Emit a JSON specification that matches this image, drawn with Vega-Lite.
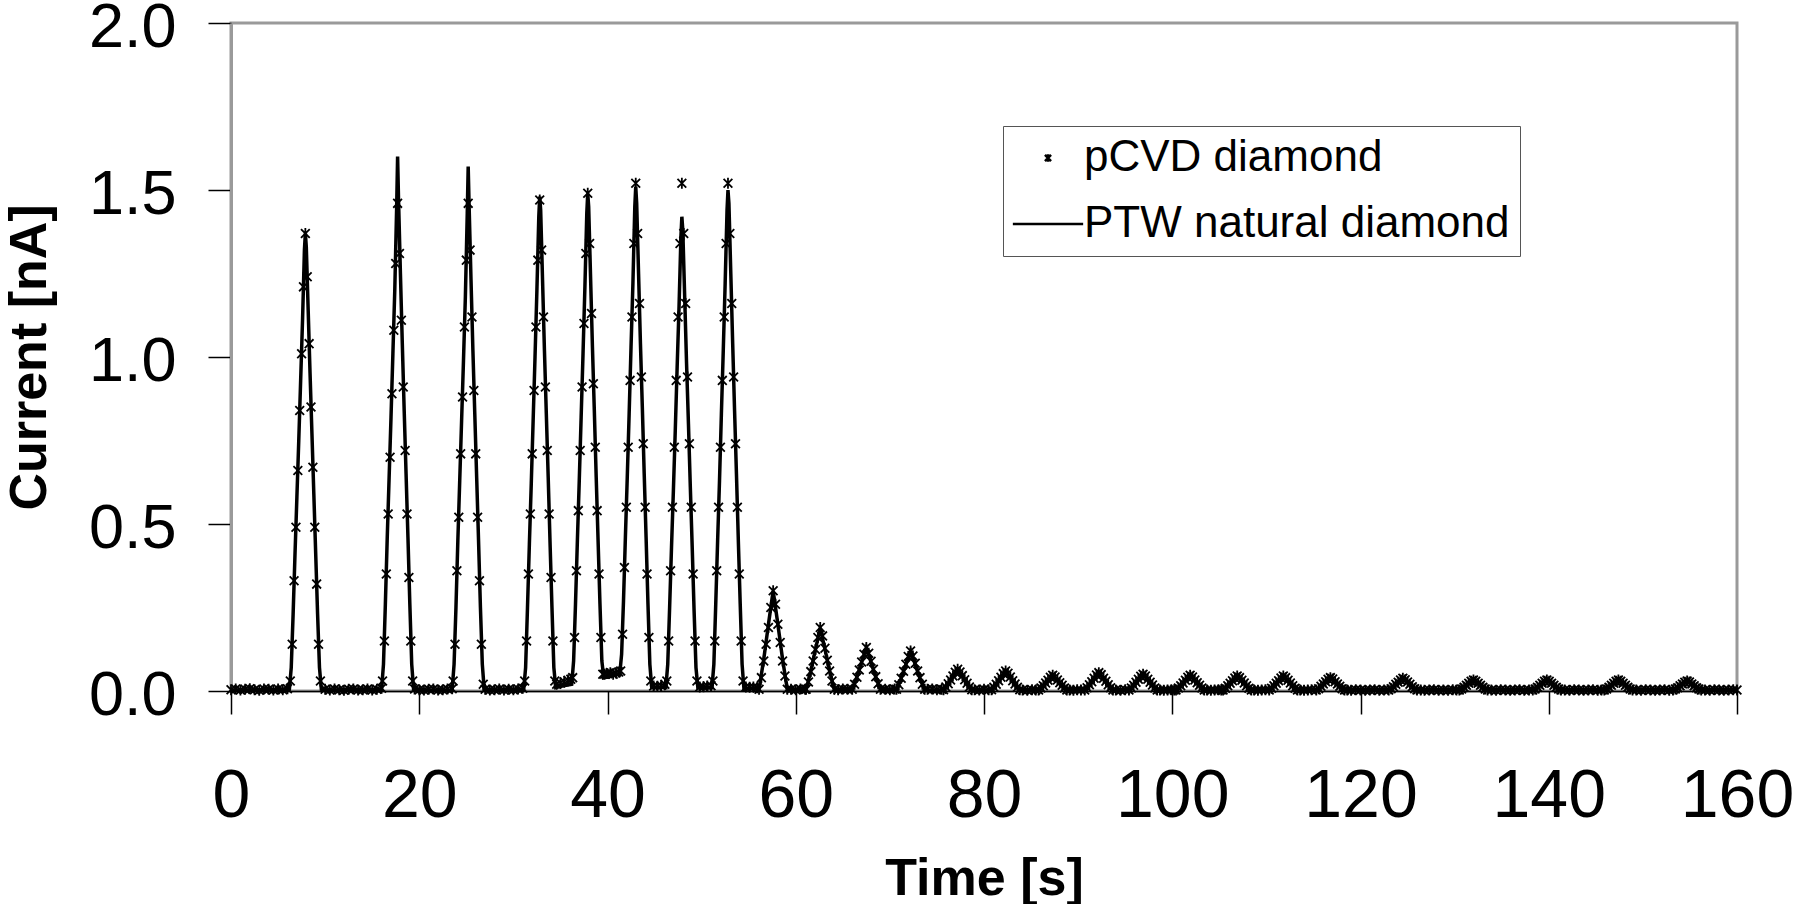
{
"$schema": "https://vega.github.io/schema/vega-lite/v6.json",
"width": 1506,
"height": 668,
"autosize": {"type": "none"},
"padding": {"left": 231, "top": 23, "right": 57, "bottom": 213},
"background": "white",
"config": {
  "view": {"stroke": "#9a9a9a", "strokeWidth": 3},
  "font": "Liberation Sans"
},
"datasets": {
"pcvd": [
{"t":0,"v":0.004},{"t":0.5,"v":0.006},{"t":1,"v":0.003},{"t":1.5,"v":0.005},{"t":2,"v":0.007},{"t":2.5,"v":0.004},{"t":3,"v":0.002},{"t":3.5,"v":0.006},{"t":4,"v":0.005},{"t":4.5,"v":0.003},{"t":5,"v":0.006},{"t":5.5,"v":0.004},{"t":6,"v":0.007},
{"t":6.3,"v":0.03},{"t":6.5,"v":0.14},{"t":6.7,"v":0.33},{"t":6.9,"v":0.49},{"t":7.1,"v":0.66},{"t":7.3,"v":0.84},{"t":7.5,"v":1.01},{"t":7.7,"v":1.21},{"t":7.9,"v":1.37},{"t":8.1,"v":1.24},{"t":8.3,"v":1.04},{"t":8.5,"v":0.85},{"t":8.7,"v":0.67},{"t":8.9,"v":0.49},{"t":9.1,"v":0.32},{"t":9.3,"v":0.14},{"t":9.5,"v":0.03},
{"t":10,"v":0.005},{"t":10.5,"v":0.003},{"t":11,"v":0.006},{"t":11.5,"v":0.004},{"t":12,"v":0.002},{"t":12.5,"v":0.005},{"t":13,"v":0.006},{"t":13.5,"v":0.003},{"t":14,"v":0.004},{"t":14.5,"v":0.006},{"t":15,"v":0.003},{"t":15.5,"v":0.005},{"t":16,"v":0.008},
{"t":16.1,"v":0.03},{"t":16.3,"v":0.15},{"t":16.5,"v":0.35},{"t":16.7,"v":0.53},{"t":16.9,"v":0.70},{"t":17.1,"v":0.89},{"t":17.3,"v":1.08},{"t":17.5,"v":1.28},{"t":17.7,"v":1.46},{"t":17.9,"v":1.31},{"t":18.1,"v":1.11},{"t":18.3,"v":0.91},{"t":18.5,"v":0.72},{"t":18.7,"v":0.53},{"t":18.9,"v":0.34},{"t":19.1,"v":0.15},{"t":19.3,"v":0.03},
{"t":19.5,"v":0.006},{"t":20,"v":0.004},{"t":20.5,"v":0.003},{"t":21,"v":0.005},{"t":21.5,"v":0.006},{"t":22,"v":0.003},{"t":22.5,"v":0.004},{"t":23,"v":0.006},{"t":23.5,"v":0.007},
{"t":23.6,"v":0.03},{"t":23.8,"v":0.14},{"t":24.0,"v":0.36},{"t":24.2,"v":0.52},{"t":24.4,"v":0.71},{"t":24.6,"v":0.88},{"t":24.8,"v":1.09},{"t":25.0,"v":1.29},{"t":25.2,"v":1.46},{"t":25.4,"v":1.32},{"t":25.6,"v":1.12},{"t":25.8,"v":0.90},{"t":26.0,"v":0.71},{"t":26.2,"v":0.52},{"t":26.4,"v":0.33},{"t":26.6,"v":0.14},{"t":26.8,"v":0.02},
{"t":27,"v":0.005},{"t":27.5,"v":0.003},{"t":28,"v":0.004},{"t":28.5,"v":0.006},{"t":29,"v":0.003},{"t":29.5,"v":0.005},{"t":30,"v":0.004},{"t":30.5,"v":0.006},{"t":31,"v":0.008},
{"t":31.2,"v":0.03},{"t":31.4,"v":0.15},{"t":31.6,"v":0.35},{"t":31.8,"v":0.53},{"t":32.0,"v":0.71},{"t":32.2,"v":0.90},{"t":32.4,"v":1.09},{"t":32.6,"v":1.29},{"t":32.8,"v":1.47},{"t":33.0,"v":1.32},{"t":33.2,"v":1.12},{"t":33.4,"v":0.91},{"t":33.6,"v":0.72},{"t":33.8,"v":0.53},{"t":34.0,"v":0.34},{"t":34.2,"v":0.15},{"t":34.4,"v":0.03},
{"t":34.6,"v":0.02},{"t":35.0,"v":0.024},{"t":35.4,"v":0.028},{"t":35.8,"v":0.032},{"t":36.1,"v":0.035},
{"t":36.3,"v":0.04},{"t":36.5,"v":0.16},{"t":36.7,"v":0.36},{"t":36.9,"v":0.54},{"t":37.1,"v":0.72},{"t":37.3,"v":0.91},{"t":37.5,"v":1.10},{"t":37.7,"v":1.31},{"t":37.9,"v":1.49},{"t":38.1,"v":1.34},{"t":38.3,"v":1.13},{"t":38.5,"v":0.92},{"t":38.7,"v":0.73},{"t":38.9,"v":0.54},{"t":39.1,"v":0.35},{"t":39.3,"v":0.16},{"t":39.5,"v":0.05},
{"t":39.7,"v":0.05},{"t":40.0,"v":0.052},{"t":40.3,"v":0.055},{"t":40.6,"v":0.05},{"t":40.9,"v":0.054},{"t":41.2,"v":0.057},
{"t":41.4,"v":0.06},{"t":41.6,"v":0.17},{"t":41.8,"v":0.37},{"t":42.0,"v":0.55},{"t":42.2,"v":0.73},{"t":42.4,"v":0.93},{"t":42.6,"v":1.12},{"t":42.8,"v":1.34},{"t":43.0,"v":1.52},{"t":43.2,"v":1.37},{"t":43.4,"v":1.16},{"t":43.6,"v":0.94},{"t":43.8,"v":0.74},{"t":44.0,"v":0.55},{"t":44.2,"v":0.35},{"t":44.4,"v":0.16},{"t":44.6,"v":0.03},
{"t":44.9,"v":0.015},{"t":45.3,"v":0.014},{"t":45.7,"v":0.016},{"t":46.1,"v":0.02},
{"t":46.3,"v":0.03},{"t":46.5,"v":0.15},{"t":46.7,"v":0.36},{"t":46.9,"v":0.55},{"t":47.1,"v":0.73},{"t":47.3,"v":0.93},{"t":47.5,"v":1.12},{"t":47.7,"v":1.34},{"t":47.9,"v":1.52},{"t":48.1,"v":1.37},{"t":48.3,"v":1.16},{"t":48.5,"v":0.94},{"t":48.7,"v":0.74},{"t":48.9,"v":0.55},{"t":49.1,"v":0.35},{"t":49.3,"v":0.15},{"t":49.5,"v":0.03},
{"t":49.8,"v":0.012},{"t":50.2,"v":0.013},{"t":50.6,"v":0.015},{"t":51.0,"v":0.016},
{"t":51.2,"v":0.03},{"t":51.4,"v":0.15},{"t":51.6,"v":0.36},{"t":51.8,"v":0.55},{"t":52.0,"v":0.73},{"t":52.2,"v":0.93},{"t":52.4,"v":1.12},{"t":52.6,"v":1.34},{"t":52.8,"v":1.52},{"t":53.0,"v":1.37},{"t":53.2,"v":1.16},{"t":53.4,"v":0.94},{"t":53.6,"v":0.74},{"t":53.8,"v":0.55},{"t":54.0,"v":0.35},{"t":54.2,"v":0.15},{"t":54.4,"v":0.03},
{"t":54.7,"v":0.012},{"t":55.1,"v":0.011},{"t":55.5,"v":0.012},{"t":55.9,"v":0.01},
{"t":56.1,"v":0.005},{"t":56.35,"v":0.04},{"t":56.6,"v":0.09},{"t":56.85,"v":0.14},{"t":57.1,"v":0.19},{"t":57.35,"v":0.25},{"t":57.6,"v":0.30},{"t":57.85,"v":0.26},{"t":58.1,"v":0.20},{"t":58.35,"v":0.145},{"t":58.6,"v":0.09},{"t":58.85,"v":0.045},{"t":59.1,"v":0.005},
{"t":59.5,"v":0.005},{"t":60,"v":0.004},{"t":60.5,"v":0.006},{"t":61,"v":0.005},
{"t":61.1,"v":0.005},{"t":61.35,"v":0.027},{"t":61.6,"v":0.058},{"t":61.85,"v":0.09},{"t":62.1,"v":0.124},{"t":62.35,"v":0.16},{"t":62.6,"v":0.19},{"t":62.85,"v":0.165},{"t":63.1,"v":0.128},{"t":63.35,"v":0.092},{"t":63.6,"v":0.06},{"t":63.85,"v":0.03},{"t":64.1,"v":0.005},
{"t":64.5,"v":0.004},{"t":65,"v":0.006},{"t":65.5,"v":0.005},
{"t":66,"v":0.005},{"t":66.25,"v":0.02},{"t":66.5,"v":0.041},{"t":66.75,"v":0.063},{"t":67,"v":0.087},{"t":67.25,"v":0.11},{"t":67.5,"v":0.13},{"t":67.75,"v":0.113},{"t":68,"v":0.089},{"t":68.25,"v":0.065},{"t":68.5,"v":0.043},{"t":68.75,"v":0.022},{"t":69,"v":0.005},
{"t":69.5,"v":0.005},{"t":70,"v":0.004},{"t":70.5,"v":0.006},
{"t":70.7,"v":0.005},{"t":70.95,"v":0.019},{"t":71.2,"v":0.038},{"t":71.45,"v":0.059},{"t":71.7,"v":0.08},{"t":71.95,"v":0.103},{"t":72.2,"v":0.12},{"t":72.45,"v":0.105},{"t":72.7,"v":0.083},{"t":72.95,"v":0.06},{"t":73.2,"v":0.04},{"t":73.45,"v":0.02},{"t":73.7,"v":0.005},
{"t":74,"v":0.005},{"t":74.5,"v":0.006},{"t":75,"v":0.004},{"t":75.5,"v":0.005},
{"t":75.7,"v":0.004},{"t":75.95,"v":0.012},{"t":76.2,"v":0.022},{"t":76.45,"v":0.033},{"t":76.7,"v":0.045},{"t":76.95,"v":0.056},{"t":77.2,"v":0.065},{"t":77.45,"v":0.057},{"t":77.7,"v":0.046},{"t":77.95,"v":0.034},{"t":78.2,"v":0.023},{"t":78.45,"v":0.012},{"t":78.7,"v":0.004},
{"t":79,"v":0.004},{"t":79.5,"v":0.003},{"t":80,"v":0.005},{"t":80.5,"v":0.004},
{"t":80.8,"v":0.004},{"t":81.05,"v":0.011},{"t":81.3,"v":0.02},{"t":81.55,"v":0.031},{"t":81.8,"v":0.041},{"t":82.05,"v":0.052},{"t":82.3,"v":0.06},{"t":82.55,"v":0.053},{"t":82.8,"v":0.042},{"t":83.05,"v":0.031},{"t":83.3,"v":0.021},{"t":83.55,"v":0.011},{"t":83.8,"v":0.004},
{"t":84.1,"v":0.003},{"t":84.6,"v":0.002},{"t":85.1,"v":0.004},{"t":85.5,"v":0.003},
{"t":85.8,"v":0.003},{"t":86.05,"v":0.009},{"t":86.3,"v":0.016},{"t":86.55,"v":0.024},{"t":86.8,"v":0.032},{"t":87.05,"v":0.041},{"t":87.3,"v":0.047},{"t":87.55,"v":0.042},{"t":87.8,"v":0.033},{"t":88.05,"v":0.025},{"t":88.3,"v":0.017},{"t":88.55,"v":0.009},{"t":88.8,"v":0.003},
{"t":89.1,"v":0.003},{"t":89.5,"v":0.002},{"t":89.9,"v":0.004},{"t":90.3,"v":0.003},
{"t":90.7,"v":0.003},{"t":90.95,"v":0.01},{"t":91.2,"v":0.019},{"t":91.45,"v":0.028},{"t":91.7,"v":0.038},{"t":91.95,"v":0.048},{"t":92.2,"v":0.055},{"t":92.45,"v":0.049},{"t":92.7,"v":0.038},{"t":92.95,"v":0.029},{"t":93.2,"v":0.019},{"t":93.45,"v":0.01},{"t":93.7,"v":0.003},
{"t":94,"v":0.003},{"t":94.5,"v":0.002},{"t":95,"v":0.004},
{"t":95.4,"v":0.003},{"t":95.65,"v":0.009},{"t":95.9,"v":0.017},{"t":96.15,"v":0.026},{"t":96.4,"v":0.035},{"t":96.65,"v":0.044},{"t":96.9,"v":0.05},{"t":97.15,"v":0.045},{"t":97.4,"v":0.035},{"t":97.65,"v":0.026},{"t":97.9,"v":0.018},{"t":98.15,"v":0.009},{"t":98.4,"v":0.003},
{"t":98.7,"v":0.003},{"t":99.1,"v":0.002},{"t":99.5,"v":0.003},{"t":99.9,"v":0.004},{"t":100.2,"v":0.003},
{"t":100.4,"v":0.003},{"t":100.65,"v":0.009},{"t":100.9,"v":0.016},{"t":101.15,"v":0.024},{"t":101.4,"v":0.032},{"t":101.65,"v":0.041},{"t":101.9,"v":0.047},{"t":102.15,"v":0.042},{"t":102.4,"v":0.033},{"t":102.65,"v":0.025},{"t":102.9,"v":0.017},{"t":103.15,"v":0.009},{"t":103.4,"v":0.003},
{"t":103.7,"v":0.003},{"t":104.1,"v":0.002},{"t":104.5,"v":0.003},{"t":104.9,"v":0.004},{"t":105.2,"v":0.003},
{"t":105.4,"v":0.003},{"t":105.65,"v":0.008},{"t":105.9,"v":0.016},{"t":106.15,"v":0.023},{"t":106.4,"v":0.031},{"t":106.65,"v":0.039},{"t":106.9,"v":0.045},{"t":107.15,"v":0.04},{"t":107.4,"v":0.032},{"t":107.65,"v":0.024},{"t":107.9,"v":0.016},{"t":108.15,"v":0.008},{"t":108.4,"v":0.003},
{"t":108.7,"v":0.003},{"t":109.1,"v":0.002},{"t":109.5,"v":0.003},{"t":109.9,"v":0.004},
{"t":110.3,"v":0.003},{"t":110.55,"v":0.008},{"t":110.8,"v":0.016},{"t":111.05,"v":0.023},{"t":111.3,"v":0.031},{"t":111.55,"v":0.039},{"t":111.8,"v":0.045},{"t":112.05,"v":0.04},{"t":112.3,"v":0.032},{"t":112.55,"v":0.024},{"t":112.8,"v":0.016},{"t":113.05,"v":0.008},{"t":113.3,"v":0.003},
{"t":113.6,"v":0.003},{"t":114,"v":0.002},{"t":114.4,"v":0.003},{"t":114.8,"v":0.004},
{"t":115.3,"v":0.003},{"t":115.55,"v":0.007},{"t":115.8,"v":0.014},{"t":116.05,"v":0.021},{"t":116.3,"v":0.028},{"t":116.55,"v":0.035},{"t":116.8,"v":0.04},{"t":117.05,"v":0.036},{"t":117.3,"v":0.028},{"t":117.55,"v":0.021},{"t":117.8,"v":0.014},{"t":118.05,"v":0.007},{"t":118.3,"v":0.003},
{"t":118.6,"v":0.003},{"t":119,"v":0.002},{"t":119.5,"v":0.004},{"t":120,"v":0.003},{"t":120.5,"v":0.002},{"t":121,"v":0.003},{"t":121.5,"v":0.004},{"t":122,"v":0.002},{"t":122.5,"v":0.003},
{"t":123,"v":0.003},{"t":123.25,"v":0.007},{"t":123.5,"v":0.013},{"t":123.75,"v":0.02},{"t":124,"v":0.026},{"t":124.25,"v":0.033},{"t":124.5,"v":0.038},{"t":124.75,"v":0.034},{"t":125,"v":0.027},{"t":125.25,"v":0.02},{"t":125.5,"v":0.013},{"t":125.75,"v":0.007},{"t":126,"v":0.003},
{"t":126.4,"v":0.003},{"t":126.8,"v":0.002},{"t":127.3,"v":0.003},{"t":127.8,"v":0.004},{"t":128.3,"v":0.002},{"t":128.8,"v":0.003},{"t":129.3,"v":0.002},{"t":129.8,"v":0.004},{"t":130.2,"v":0.003},
{"t":130.5,"v":0.003},{"t":130.75,"v":0.006},{"t":131,"v":0.011},{"t":131.25,"v":0.017},{"t":131.5,"v":0.023},{"t":131.75,"v":0.029},{"t":132,"v":0.033},{"t":132.25,"v":0.029},{"t":132.5,"v":0.023},{"t":132.75,"v":0.017},{"t":133,"v":0.011},{"t":133.25,"v":0.006},{"t":133.5,"v":0.003},
{"t":133.9,"v":0.003},{"t":134.4,"v":0.002},{"t":134.9,"v":0.004},{"t":135.4,"v":0.003},{"t":135.9,"v":0.002},{"t":136.4,"v":0.003},{"t":136.9,"v":0.004},{"t":137.4,"v":0.002},{"t":137.9,"v":0.003},
{"t":138.3,"v":0.003},{"t":138.55,"v":0.006},{"t":138.8,"v":0.011},{"t":139.05,"v":0.017},{"t":139.3,"v":0.023},{"t":139.55,"v":0.029},{"t":139.8,"v":0.033},{"t":140.05,"v":0.029},{"t":140.3,"v":0.023},{"t":140.55,"v":0.017},{"t":140.8,"v":0.011},{"t":141.05,"v":0.006},{"t":141.3,"v":0.003},
{"t":141.7,"v":0.003},{"t":142.2,"v":0.002},{"t":142.7,"v":0.004},{"t":143.2,"v":0.003},{"t":143.7,"v":0.002},{"t":144.2,"v":0.003},{"t":144.7,"v":0.004},{"t":145.2,"v":0.002},{"t":145.6,"v":0.003},
{"t":145.9,"v":0.003},{"t":146.15,"v":0.006},{"t":146.4,"v":0.011},{"t":146.65,"v":0.017},{"t":146.9,"v":0.023},{"t":147.15,"v":0.029},{"t":147.4,"v":0.033},{"t":147.65,"v":0.029},{"t":147.9,"v":0.023},{"t":148.15,"v":0.017},{"t":148.4,"v":0.011},{"t":148.65,"v":0.006},{"t":148.9,"v":0.003},
{"t":149.3,"v":0.003},{"t":149.8,"v":0.002},{"t":150.3,"v":0.004},{"t":150.8,"v":0.003},{"t":151.3,"v":0.002},{"t":151.8,"v":0.003},{"t":152.3,"v":0.004},{"t":152.8,"v":0.002},
{"t":153.2,"v":0.003},{"t":153.45,"v":0.006},{"t":153.7,"v":0.01},{"t":153.95,"v":0.016},{"t":154.2,"v":0.021},{"t":154.45,"v":0.026},{"t":154.7,"v":0.03},{"t":154.95,"v":0.027},{"t":155.2,"v":0.021},{"t":155.45,"v":0.016},{"t":155.7,"v":0.01},{"t":155.95,"v":0.006},{"t":156.2,"v":0.003},
{"t":156.6,"v":0.003},{"t":157.1,"v":0.002},{"t":157.6,"v":0.004},{"t":158.1,"v":0.003},{"t":158.6,"v":0.002},{"t":159.1,"v":0.003},{"t":159.6,"v":0.004},{"t":160,"v":0.003}
],
"ptw": [
{"t":0,"v":0.003},{"t":3,"v":0.004},{"t":6.0,"v":0.004},
{"t":6.2,"v":0.005},{"t":6.4,"v":0.07},{"t":6.6,"v":0.23},{"t":6.8,"v":0.41},{"t":7.0,"v":0.58},{"t":7.2,"v":0.75},{"t":7.4,"v":0.93},{"t":7.6,"v":1.11},{"t":7.8,"v":1.32},{"t":7.9,"v":1.37},{"t":8.0,"v":1.33},{"t":8.2,"v":1.14},{"t":8.4,"v":0.95},{"t":8.6,"v":0.77},{"t":8.8,"v":0.59},{"t":9.0,"v":0.41},{"t":9.2,"v":0.23},{"t":9.4,"v":0.07},{"t":9.6,"v":0.005},
{"t":10,"v":0.003},{"t":13,"v":0.004},{"t":15.8,"v":0.004},
{"t":16.0,"v":0.005},{"t":16.2,"v":0.08},{"t":16.4,"v":0.26},{"t":16.6,"v":0.46},{"t":16.8,"v":0.64},{"t":17.0,"v":0.82},{"t":17.2,"v":1.01},{"t":17.4,"v":1.20},{"t":17.6,"v":1.45},{"t":17.7,"v":1.60},{"t":17.8,"v":1.47},{"t":18.0,"v":1.25},{"t":18.2,"v":1.04},{"t":18.4,"v":0.84},{"t":18.6,"v":0.65},{"t":18.8,"v":0.46},{"t":19.0,"v":0.26},{"t":19.2,"v":0.08},{"t":19.4,"v":0.005},
{"t":20,"v":0.003},{"t":23.3,"v":0.004},
{"t":23.5,"v":0.005},{"t":23.7,"v":0.08},{"t":23.9,"v":0.25},{"t":24.1,"v":0.45},{"t":24.3,"v":0.63},{"t":24.5,"v":0.81},{"t":24.7,"v":0.99},{"t":24.9,"v":1.18},{"t":25.1,"v":1.43},{"t":25.2,"v":1.57},{"t":25.3,"v":1.45},{"t":25.5,"v":1.23},{"t":25.7,"v":1.02},{"t":25.9,"v":0.83},{"t":26.1,"v":0.64},{"t":26.3,"v":0.45},{"t":26.5,"v":0.25},{"t":26.7,"v":0.08},{"t":26.9,"v":0.005},
{"t":27.5,"v":0.003},{"t":30.8,"v":0.004},
{"t":31.1,"v":0.005},{"t":31.3,"v":0.07},{"t":31.5,"v":0.25},{"t":31.7,"v":0.44},{"t":31.9,"v":0.62},{"t":32.1,"v":0.81},{"t":32.3,"v":1.0},{"t":32.5,"v":1.2},{"t":32.7,"v":1.42},{"t":32.8,"v":1.48},{"t":32.9,"v":1.44},{"t":33.1,"v":1.23},{"t":33.3,"v":1.02},{"t":33.5,"v":0.83},{"t":33.7,"v":0.64},{"t":33.9,"v":0.44},{"t":34.1,"v":0.25},{"t":34.3,"v":0.07},{"t":34.5,"v":0.01},
{"t":35.2,"v":0.015},
{"t":36.2,"v":0.02},{"t":36.4,"v":0.09},{"t":36.6,"v":0.26},{"t":36.8,"v":0.45},{"t":37.0,"v":0.63},{"t":37.2,"v":0.82},{"t":37.4,"v":1.01},{"t":37.6,"v":1.21},{"t":37.8,"v":1.43},{"t":37.9,"v":1.49},{"t":38.0,"v":1.45},{"t":38.2,"v":1.24},{"t":38.4,"v":1.03},{"t":38.6,"v":0.84},{"t":38.8,"v":0.64},{"t":39.0,"v":0.45},{"t":39.2,"v":0.26},{"t":39.4,"v":0.09},{"t":39.6,"v":0.04},
{"t":40.3,"v":0.045},
{"t":41.3,"v":0.05},{"t":41.5,"v":0.11},{"t":41.7,"v":0.27},{"t":41.9,"v":0.46},{"t":42.1,"v":0.64},{"t":42.3,"v":0.83},{"t":42.5,"v":1.03},{"t":42.7,"v":1.22},{"t":42.9,"v":1.45},{"t":43.0,"v":1.51},{"t":43.1,"v":1.46},{"t":43.3,"v":1.25},{"t":43.5,"v":1.04},{"t":43.7,"v":0.85},{"t":43.9,"v":0.65},{"t":44.1,"v":0.46},{"t":44.3,"v":0.26},{"t":44.5,"v":0.08},{"t":44.7,"v":0.01},
{"t":45.5,"v":0.012},
{"t":46.2,"v":0.01},{"t":46.4,"v":0.08},{"t":46.6,"v":0.25},{"t":46.8,"v":0.43},{"t":47.0,"v":0.60},{"t":47.2,"v":0.78},{"t":47.4,"v":0.97},{"t":47.6,"v":1.15},{"t":47.8,"v":1.36},{"t":47.9,"v":1.42},{"t":48.0,"v":1.38},{"t":48.2,"v":1.18},{"t":48.4,"v":0.98},{"t":48.6,"v":0.80},{"t":48.8,"v":0.61},{"t":49.0,"v":0.43},{"t":49.2,"v":0.24},{"t":49.4,"v":0.07},{"t":49.6,"v":0.01},
{"t":50.3,"v":0.01},
{"t":51.1,"v":0.01},{"t":51.3,"v":0.08},{"t":51.5,"v":0.26},{"t":51.7,"v":0.45},{"t":51.9,"v":0.63},{"t":52.1,"v":0.83},{"t":52.3,"v":1.02},{"t":52.5,"v":1.22},{"t":52.7,"v":1.44},{"t":52.8,"v":1.50},{"t":52.9,"v":1.46},{"t":53.1,"v":1.25},{"t":53.3,"v":1.04},{"t":53.5,"v":0.84},{"t":53.7,"v":0.65},{"t":53.9,"v":0.45},{"t":54.1,"v":0.26},{"t":54.3,"v":0.08},{"t":54.5,"v":0.005},
{"t":55.3,"v":0.008},
{"t":56.1,"v":0.005},{"t":56.6,"v":0.095},{"t":57.1,"v":0.2},{"t":57.6,"v":0.3},{"t":58.1,"v":0.2},{"t":58.6,"v":0.095},{"t":59.1,"v":0.005},
{"t":60.1,"v":0.004},
{"t":61.1,"v":0.004},{"t":61.6,"v":0.06},{"t":62.1,"v":0.125},{"t":62.6,"v":0.19},{"t":63.1,"v":0.125},{"t":63.6,"v":0.06},{"t":64.1,"v":0.004},
{"t":66,"v":0.004},{"t":66.5,"v":0.042},{"t":67,"v":0.086},{"t":67.5,"v":0.13},{"t":68,"v":0.086},{"t":68.5,"v":0.042},{"t":69,"v":0.004},
{"t":70.7,"v":0.004},{"t":71.2,"v":0.038},{"t":71.7,"v":0.079},{"t":72.2,"v":0.12},{"t":72.7,"v":0.079},{"t":73.2,"v":0.038},{"t":73.7,"v":0.004},
{"t":75.7,"v":0.003},{"t":76.2,"v":0.021},{"t":76.7,"v":0.043},{"t":77.2,"v":0.065},{"t":77.7,"v":0.043},{"t":78.2,"v":0.021},{"t":78.7,"v":0.003},
{"t":80.8,"v":0.003},{"t":81.3,"v":0.02},{"t":81.8,"v":0.04},{"t":82.3,"v":0.06},{"t":82.8,"v":0.04},{"t":83.3,"v":0.02},{"t":83.8,"v":0.003},
{"t":85.8,"v":0.003},{"t":86.3,"v":0.016},{"t":86.8,"v":0.031},{"t":87.3,"v":0.047},{"t":87.8,"v":0.031},{"t":88.3,"v":0.016},{"t":88.8,"v":0.003},
{"t":90.7,"v":0.003},{"t":91.2,"v":0.018},{"t":91.7,"v":0.036},{"t":92.2,"v":0.055},{"t":92.7,"v":0.036},{"t":93.2,"v":0.018},{"t":93.7,"v":0.003},
{"t":95.4,"v":0.003},{"t":95.9,"v":0.017},{"t":96.4,"v":0.033},{"t":96.9,"v":0.05},{"t":97.4,"v":0.033},{"t":97.9,"v":0.017},{"t":98.4,"v":0.003},
{"t":100.4,"v":0.003},{"t":100.9,"v":0.016},{"t":101.4,"v":0.031},{"t":101.9,"v":0.047},{"t":102.4,"v":0.031},{"t":102.9,"v":0.016},{"t":103.4,"v":0.003},
{"t":105.4,"v":0.003},{"t":105.9,"v":0.015},{"t":106.4,"v":0.03},{"t":106.9,"v":0.045},{"t":107.4,"v":0.03},{"t":107.9,"v":0.015},{"t":108.4,"v":0.003},
{"t":110.3,"v":0.003},{"t":110.8,"v":0.015},{"t":111.3,"v":0.03},{"t":111.8,"v":0.045},{"t":112.3,"v":0.03},{"t":112.8,"v":0.015},{"t":113.3,"v":0.003},
{"t":115.3,"v":0.003},{"t":115.8,"v":0.013},{"t":116.3,"v":0.027},{"t":116.8,"v":0.04},{"t":117.3,"v":0.027},{"t":117.8,"v":0.013},{"t":118.3,"v":0.003},
{"t":123,"v":0.003},{"t":123.5,"v":0.013},{"t":124,"v":0.025},{"t":124.5,"v":0.038},{"t":125,"v":0.025},{"t":125.5,"v":0.013},{"t":126,"v":0.003},
{"t":130.5,"v":0.003},{"t":131,"v":0.011},{"t":131.5,"v":0.022},{"t":132,"v":0.033},{"t":132.5,"v":0.022},{"t":133,"v":0.011},{"t":133.5,"v":0.003},
{"t":138.3,"v":0.003},{"t":138.8,"v":0.011},{"t":139.3,"v":0.022},{"t":139.8,"v":0.033},{"t":140.3,"v":0.022},{"t":140.8,"v":0.011},{"t":141.3,"v":0.003},
{"t":145.9,"v":0.003},{"t":146.4,"v":0.011},{"t":146.9,"v":0.022},{"t":147.4,"v":0.033},{"t":147.9,"v":0.022},{"t":148.4,"v":0.011},{"t":148.9,"v":0.003},
{"t":153.2,"v":0.003},{"t":153.7,"v":0.01},{"t":154.2,"v":0.02},{"t":154.7,"v":0.03},{"t":155.2,"v":0.02},{"t":155.7,"v":0.01},{"t":156.2,"v":0.003},
{"t":160,"v":0.003}
]
},
"encoding": {
  "x": {"field": "t", "type": "quantitative",
    "scale": {"domain": [0, 160], "nice": false, "zero": false},
    "axis": {"values": [0,20,40,60,80,100,120,140,160], "grid": false,
      "labelFont": "Liberation Sans", "labelFontSize": 68, "labelColor": "black",
      "labelPadding": 48, "labelFlush": false,
      "tickSize": 23, "tickColor": "black", "tickWidth": 1.5,
      "domainColor": "black", "domainWidth": 1.5,
      "title": "Time [s]", "titleFont": "Liberation Sans", "titleFontSize": 52, "titleFontWeight": "bold", "titleColor": "black",
      "titleX": 753, "titleY": 203, "titleBaseline": "alphabetic", "titleAlign": "center"}},
  "y": {"field": "v", "type": "quantitative",
    "scale": {"domain": [0, 2], "nice": false},
    "axis": {"values": [0, 0.5, 1, 1.5, 2], "format": ".1f", "grid": false,
      "labelFont": "Liberation Sans", "labelFontSize": 63, "labelColor": "black",
      "labelPadding": 32, "labelOffset": 4,
      "tickSize": 23, "tickColor": "black", "tickWidth": 1.5,
      "domainColor": "#9a9a9a", "domainWidth": 3,
      "title": "Current [nA]", "titleFont": "Liberation Sans", "titleFontSize": 52, "titleFontWeight": "bold", "titleColor": "black",
      "titleX": -186, "titleY": 334, "titleAngle": 270, "titleBaseline": "alphabetic", "titleAlign": "center"}}
},
"layer": [
  {
    "data": {"name": "pcvd"},
    "mark": {"type": "point", "filled": false, "size": 3000, "strokeWidth": 1.8, "color": "black", "opacity": 1},
    "encoding": {
      "shape": {"datum": "pCVD diamond", "type": "nominal",
        "scale": {"domain": ["pCVD diamond", "PTW natural diamond"],
                  "range": ["M-0.16,-0.16L0.16,0.16M-0.16,0.16L0.16,-0.16M0,-0.2L0,0.2", "M-1.85,0L1.85,0"]},
        "legend": {"orient": "none", "legendX": 772, "legendY": 103, "title": null,
          "labelFont": "Liberation Sans", "labelFontSize": 44, "labelColor": "black", "labelLimit": 0,
          "padding": 10, "symbolOffset": 13, "labelOffset": 14, "rowPadding": 22,
          "strokeColor": "#555555", "fillColor": "white",
          "symbolSize": 1444, "symbolStrokeWidth": 2.5, "symbolStrokeColor": "black", "symbolFillColor": "transparent"}}
    }
  },
  {
    "data": {"name": "ptw"},
    "mark": {"type": "line", "color": "black", "strokeWidth": 3.5},
    "encoding": {}
  }
]
}
